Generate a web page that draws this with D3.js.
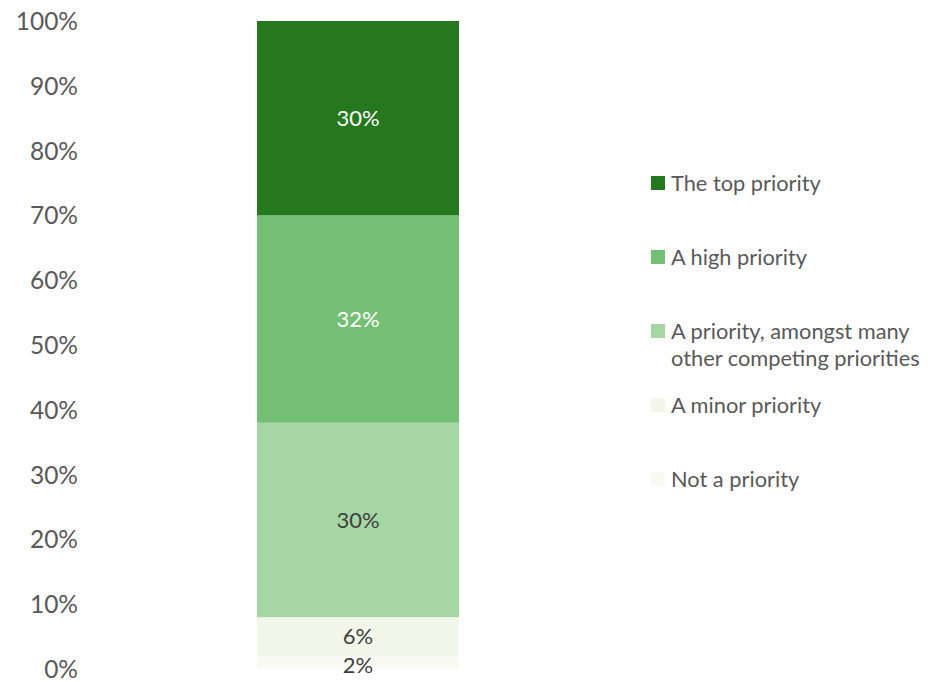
<!DOCTYPE html>
<html>
<head>
<meta charset="utf-8">
<script src="https://cdn.jsdelivr.net/npm/d3@7"></script>
<style>
  html, body { margin: 0; padding: 0; background: #fff; }
  svg text { font-family: Lato, "Open Sans", sans-serif; }
</style>
</head>
<body>
<svg id="chart" width="931" height="682"></svg>
<script>
// Stacked shares, bottom to top
const categories = ["Not a priority", "A minor priority", "A priority, amongst many other competing priorities", "A high priority", "The top priority"];
const values = [2, 6, 30, 32, 30];
const colors = ["#F8FAF3", "#F2F7EA", "#A6D6A4", "#73BF73", "#26781F"];
const labelColors = ["#404040", "#404040", "#404040", "#ffffff", "#ffffff"];
const yTicks = [0, 10, 20, 30, 40, 50, 60, 70, 80, 90, 100];
// Legend order, top to bottom, with wrapped lines
const legendItems = [
  { cat: 4, lines: ["The top priority"] },
  { cat: 3, lines: ["A high priority"] },
  { cat: 2, lines: ["A priority, amongst many", "other competing priorities"] },
  { cat: 1, lines: ["A minor priority"] },
  { cat: 0, lines: ["Not a priority"] }
];
const legendRows = [183, 257, 331, 405, 479];

const svg = d3.select("#chart");
const y = d3.scaleLinear().domain([0, 100]).range([669, 21]);
const x = d3.scaleBand().domain(["all"]).range([257, 459]).padding(0);

// Y axis: labels only
const yAxis = d3.axisLeft(y).tickValues(yTicks).tickFormat(d => d + "%").tickSize(0).tickPadding(0);
const gy = svg.append("g").attr("transform", "translate(78,0)").call(yAxis);
gy.select(".domain").remove();
gy.selectAll("text").attr("fill", "#595959").style("font-size", "24.5px").attr("dy", "0.35em");

// Stack segments
let acc = 0;
const segs = values.map((v, i) => { const s = { i, y0: acc, y1: acc + v, v }; acc += v; return s; });

svg.append("g").selectAll("rect").data(segs).join("rect")
  .attr("x", x("all")).attr("width", x.bandwidth())
  .attr("y", d => y(d.y1)).attr("height", d => y(d.y0) - y(d.y1))
  .attr("fill", d => colors[d.i]);

svg.append("g").selectAll("text").data(segs).join("text")
  .attr("x", x("all") + x.bandwidth() / 2)
  .attr("y", d => (y(d.y0) + y(d.y1)) / 2 + (d.i === 0 ? 3 : 0))
  .attr("dy", "0.35em")
  .attr("text-anchor", "middle")
  .attr("fill", d => labelColors[d.i])
  .style("font-size", "22px")
  .text(d => d.v + "%");

// Legend
const lg = svg.append("g");
legendItems.forEach((item, k) => {
  const cy = legendRows[k];
  lg.append("rect").attr("x", 651).attr("y", cy - 7).attr("width", 14).attr("height", 14)
    .attr("fill", colors[item.cat]);
  item.lines.forEach((ln, j) => {
    lg.append("text").attr("x", 671).attr("y", cy + j * 27).attr("dy", "0.35em")
      .attr("fill", "#595959").style("font-size", "21.8px").text(ln);
  });
});
</script>
</body>
</html>
